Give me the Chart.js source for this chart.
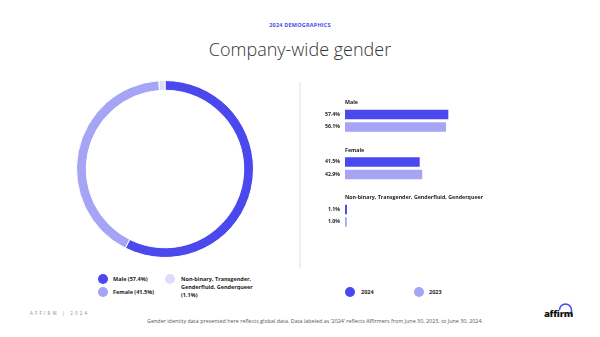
<!DOCTYPE html>
<html>
<head>
<meta charset="utf-8">
<script src="https://cdn.jsdelivr.net/npm/chart.js@4.4.0/dist/chart.umd.min.js"></script>
<style>
  body { margin: 0; background: #fff; font-family: "Open Sans", sans-serif; }
  #page { position: relative; width: 600px; height: 337px; overflow: hidden; background: #fff; }
  .abs { position: absolute; }
  #kicker { left: 0; width: 600px; top: 21px; text-align: center; font-size: 5.5px; font-weight: 700; color: #4b48ee; letter-spacing: 0.2px; }
  #title { left: 0; width: 600px; top: 37px; text-align: center; font-size: 18px; font-weight: 300; color: #333; }
  #divider { left: 299px; top: 82px; width: 2px; height: 186px; background: #efefef; }
  .dot { position: absolute; width: 10px; height: 10px; border-radius: 50%; }
  .lg { position: absolute; font-size: 5.5px; font-weight: 700; color: #222; line-height: 8px; }
  #brand { left: 30px; top: 310px; font-size: 4.5px; letter-spacing: 2.2px; color: #888; }
  #note { left: 0; width: 630px; top: 317px; text-align: center; font-size: 5.4px; color: #555; }
  #logo { left: 543px; top: 302px; }
</style>
</head>
<body>
<div id="page">
  <div id="kicker" class="abs">2024 DEMOGRAPHICS</div>
  <div id="title" class="abs">Company-wide gender</div>
  <div id="divider" class="abs"></div>
  <div class="abs" style="left:60px;top:74px;width:210px;height:190px;"><canvas id="donut"></canvas></div>
  <div class="abs" style="left:300px;top:90px;width:240px;height:160px;"><canvas id="bars"></canvas></div>
  <div id="legendL"></div>
  <div id="legendR"></div>
  <div id="brand" class="abs">AFFIRM | 2024</div>
  <div id="note" class="abs">Gender identity data presented here reflects global data. Data labeled as ‘2024’ reflects Affirmers from June 30, 2023, to June 30, 2024.</div>
  <svg id="logo" class="abs" width="32" height="18" viewBox="0 0 32 18">
    <path d="M16.5 8 A6 6 0 0 1 28.5 8 L28.5 14" fill="none" stroke="#4b48ee" stroke-width="1.6"/>
    <text x="1" y="15" font-family="Open Sans" font-weight="800" font-size="9.5" fill="#111" letter-spacing="-0.3">affirm</text>
  </svg>
</div>
<script>
// data
const genders = ['Male', 'Female', 'Non-binary, Transgender, Genderfluid, Genderqueer'];
const share2024 = [57.4, 41.5, 1.1];
const share2023 = [56.1, 42.9, 1.0];
const years = ['2024', '2023'];

const blue = '#4b48ee';
const lilac = '#a6a4f4';
const pale = '#dedcfb';

// donut of 2024 split
new Chart(document.getElementById('donut'), {
  type: 'doughnut',
  data: {
    labels: genders,
    datasets: [{
      data: share2024,
      backgroundColor: [blue, lilac, pale],
      borderColor: '#fff',
      borderWidth: 1
    }]
  },
  options: {
    responsive: true,
    maintainAspectRatio: false,
    animation: false,
    cutout: '89%',
    layout: { padding: { left: 6, right: 6, top: 6, bottom: 6 } },
    plugins: { legend: { display: false }, tooltip: { enabled: false } }
  }
});

// labels above each group and value labels left of bars
const barLabels = {
  id: 'barLabels',
  afterDatasetsDraw(chart) {
    const ctx = chart.ctx;
    const y = chart.scales.y;
    const left = chart.chartArea.left;
    ctx.save();
    ctx.fillStyle = '#222';
    ctx.textBaseline = 'middle';
    genders.forEach((g, i) => {
      ctx.font = '700 5.3px "Open Sans"';
      ctx.textAlign = 'left';
      ctx.fillText(g, left, y.getPixelForValue(i) - 18);
    });
    chart.data.datasets.forEach((ds, di) => {
      chart.getDatasetMeta(di).data.forEach((bar, i) => {
        ctx.font = '700 5.2px "Open Sans"';
        ctx.textAlign = 'right';
        ctx.fillText(ds.data[i].toFixed(1) + '%', left - 5, bar.y);
      });
    });
    ctx.restore();
  }
};

new Chart(document.getElementById('bars'), {
  type: 'bar',
  data: {
    labels: genders,
    datasets: [
      { label: years[0], data: share2024, backgroundColor: blue },
      { label: years[1], data: share2023, backgroundColor: lilac }
    ]
  },
  options: {
    indexAxis: 'y',
    responsive: true,
    maintainAspectRatio: false,
    animation: false,
    categoryPercentage: 0.526,
    barPercentage: 0.76,
    layout: { padding: { left: 45, right: 15, top: 7, bottom: 10.5 } },
    scales: {
      x: { display: false, min: 0, max: 100 },
      y: { display: false }
    },
    plugins: { legend: { display: false }, tooltip: { enabled: false } }
  },
  plugins: [barLabels]
});

// html legends
const legendL = document.getElementById('legendL');
const donutColors = [blue, lilac, pale];
const legPos = [[98, 274, 113], [98, 287, 113], [165, 274, 181]];
genders.forEach((g, i) => {
  const p = legPos[i];
  legendL.innerHTML += '<div class="dot" style="left:' + p[0] + 'px;top:' + p[1] + 'px;background:' + donutColors[i] + '"></div>' +
    '<div class="lg" style="left:' + p[2] + 'px;top:' + (p[1] + 1) + 'px;width:' + (i == 2 ? 80 : 90) + 'px">' + g + ' (' + share2024[i] + '%)</div>';
});
const legendR = document.getElementById('legendR');
const yearPos = [[345, 361], [414, 429]];
years.forEach((yr, i) => {
  const p = yearPos[i];
  legendR.innerHTML += '<div class="dot" style="left:' + p[0] + 'px;top:287px;background:' + [blue, lilac][i] + '"></div>' +
    '<div class="lg" style="left:' + p[1] + 'px;top:288px">' + yr + '</div>';
});
</script>
</body>
</html>
